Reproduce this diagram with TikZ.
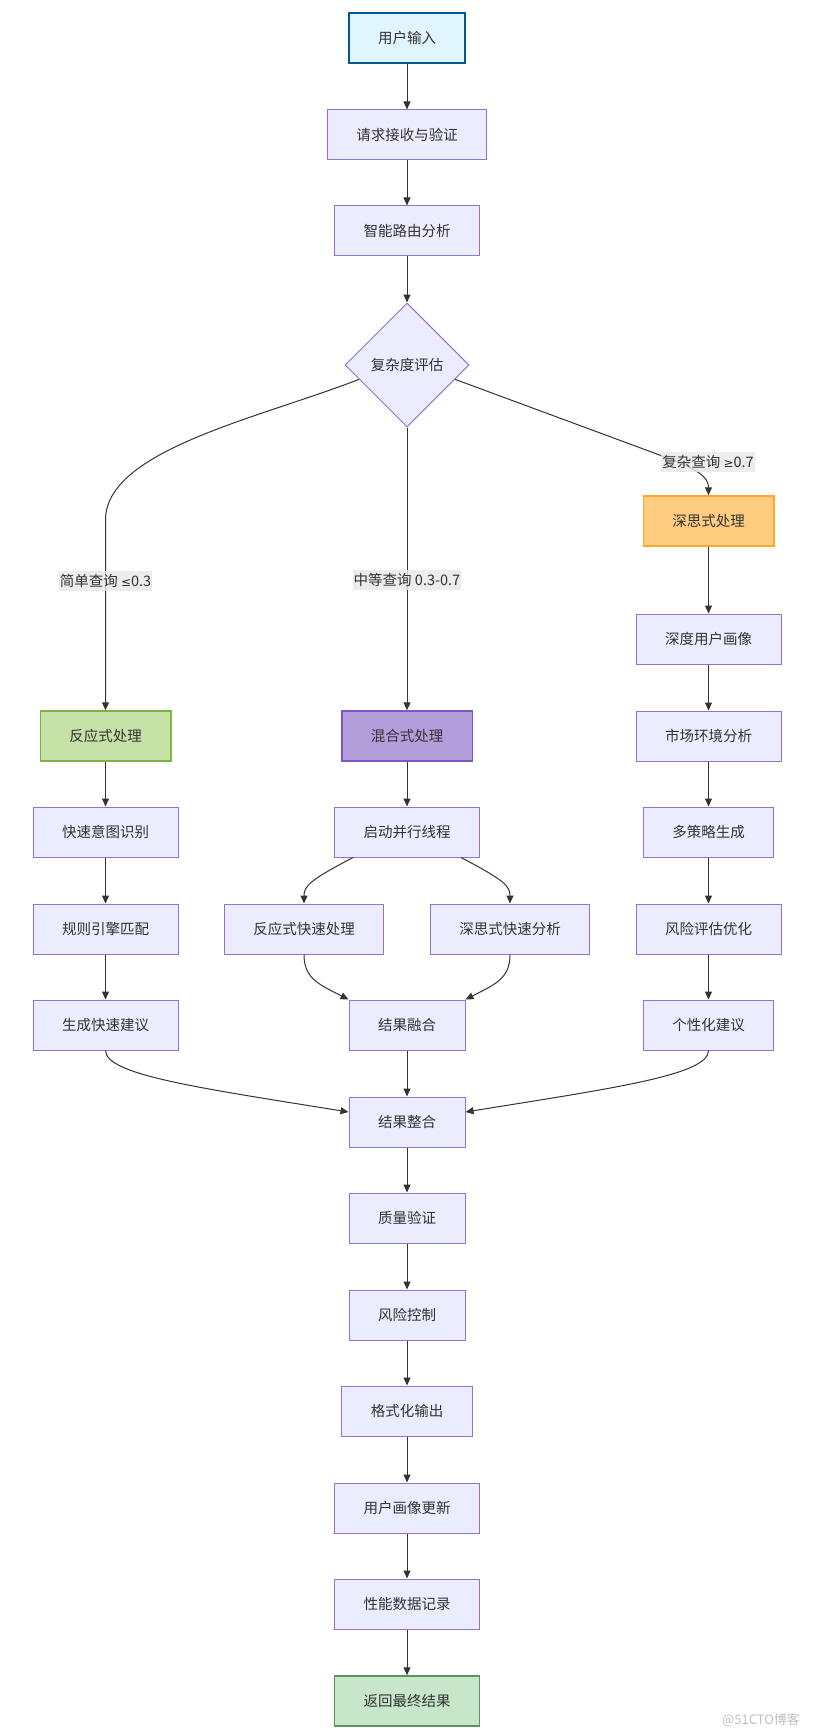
\documentclass[tikz,border=0pt]{standalone}
\usepackage{fontspec}
\newfontfamily\cjk{Noto Sans CJK SC}
\newfontfamily\symfnt{DejaVu Sans}
\usetikzlibrary{shapes.geometric,arrows.meta,calc}

\definecolor{boxfill}{HTML}{ECECFF}
\definecolor{boxline}{HTML}{9370DB}
\definecolor{edgecol}{HTML}{333333}
\definecolor{labelbg}{HTML}{E8E8E8}
\definecolor{startfill}{HTML}{E1F5FE}
\definecolor{startline}{HTML}{01579B}
\definecolor{reactfill}{HTML}{C5E1A5}
\definecolor{reactline}{HTML}{7CB342}
\definecolor{hybridfill}{HTML}{B39DDB}
\definecolor{hybridline}{HTML}{7E57C2}
\definecolor{deepfill}{HTML}{FFCC80}
\definecolor{deepline}{HTML}{FFA726}
\definecolor{endfill}{HTML}{C8E6C9}
\definecolor{endline}{HTML}{5B9460}
\newcommand\boxfont{\cjk\fontsize{14.5pt}{17pt}\selectfont}

\begin{document}
\begin{tikzpicture}[x=1pt, y=-1pt,
    proc/.style={rectangle, draw=boxline, fill=boxfill, line width=1pt, minimum height=50pt, inner xsep=29pt, inner ysep=0pt, text=edgecol, font=\boxfont},
    decision/.style={diamond, aspect=1, draw=boxline, fill=boxfill, line width=1pt, minimum width=124pt, minimum height=124pt, inner sep=0pt, text=edgecol, font=\boxfont},
    startbox/.style={draw=startline, fill=startfill, line width=1.5pt},
    reactbox/.style={draw=reactline, fill=reactfill, line width=1.5pt},
    hybridbox/.style={draw=hybridline, fill=hybridfill, line width=1.5pt},
    deepbox/.style={draw=deepline, fill=deepfill, line width=1.5pt},
    endbox/.style={draw=endline, fill=endfill, line width=1.5pt},
    elabel/.style={fill=labelbg, fill opacity=0.8, text opacity=1, inner xsep=1pt, inner ysep=3pt, text=edgecol, font=\boxfont},
    arrow/.style={-{Triangle[length=8pt, width=7pt]}, draw=edgecol, line width=1pt}
]
\useasboundingbox[fill=white] (0,0) rectangle (816,1736);

% Input chain
\node[proc, startbox] (input) at (407,38) {用户输入};
\node[proc] (recv) at (407,135) {请求接收与验证};
\node[proc] (route) at (407,231) {智能路由分析};
\node[decision] (cplx) at (407,365) {复杂度评估};

% Reactive path
\node[proc, reactbox] (react) at (105.5,736) {反应式处理};
\node[proc] (intent) at (105.5,832) {快速意图识别};
\node[proc] (rules) at (105.5,929) {规则引擎匹配};
\node[proc] (quick) at (105.5,1025) {生成快速建议};

% Hybrid path
\node[proc, hybridbox] (hybrid) at (407,736) {混合式处理};
\node[proc] (thread) at (407,832) {启动并行线程};
\node[proc] (fastreact) at (304,929) {反应式快速处理};
\node[proc] (fastdeep) at (510,929) {深思式快速分析};
\node[proc] (fuse) at (407,1025) {结果融合};

% Deliberative path
\node[proc, deepbox] (deep) at (708.5,521) {深思式处理};
\node[proc] (profile) at (708.5,639) {深度用户画像};
\node[proc] (market) at (708.5,736) {市场环境分析};
\node[proc] (strat) at (708.5,832) {多策略生成};
\node[proc] (risk) at (708.5,929) {风险评估优化};
\node[proc] (advice) at (708.5,1025) {个性化建议};

% Output chain
\node[proc] (merge) at (407,1122) {结果整合};
\node[proc] (check) at (407,1218) {质量验证};
\node[proc] (ctrl) at (407,1315) {风险控制};
\node[proc] (fmt) at (407,1411) {格式化输出};
\node[proc] (upd) at (407,1508) {用户画像更新};
\node[proc] (log) at (407,1604) {性能数据记录};
\node[proc, endbox] (ret) at (407,1701) {返回最终结果};

% Straight arrows
\foreach \a/\b in {input/recv, recv/route, route/cplx, react/intent, intent/rules, rules/quick,
    hybrid/thread, fuse/merge, deep/profile, profile/market, market/strat, strat/risk, risk/advice,
    merge/check, check/ctrl, ctrl/fmt, fmt/upd, upd/log, log/ret}
  \draw[arrow] (\a) -- (\b);

% Branches
\draw[arrow] ($(cplx.west)!0.23!(cplx.south)$) .. controls (260,418) and (105.5,450) .. (105.5,520)
  -- node[elabel, pos=0.32] {简单查询 {\symfnt\fontsize{12pt}{14pt}\selectfont ≤}0.3} (react);
\draw[arrow] (cplx) -- node[elabel, pos=0.54] {中等查询 0.3-0.7} (hybrid);
\draw[arrow] ($(cplx.east)!0.23!(cplx.south)$) -- (665,457) .. controls (700,470) and (708.5,478) .. (deep);
\node[elabel] (hardlbl) at (708,462) {复杂查询 {\symfnt\fontsize{12pt}{14pt}\selectfont ≥}0.7};

% Fork and join
\draw[arrow] ($(thread.south)+(-54,0)$) .. controls (310,880) and (304,886) .. (fastreact);
\draw[arrow] ($(thread.south)+(54,0)$) .. controls (504,880) and (510,886) .. (fastdeep);
\draw[arrow] (fastreact) .. controls (304,978) and (318,984) .. (fuse.north west);
\draw[arrow] (fastdeep) .. controls (510,978) and (496,984) .. (fuse.north east);
\draw[arrow] (quick) .. controls (105.5,1075) and (200,1088) .. ($(merge.west)+(0,-10)$);
\draw[arrow] (advice) .. controls (708.5,1075) and (614,1088) .. ($(merge.east)+(0,-10)$);

% Watermark
\node[text=gray!50, font=\cjk\fontsize{13pt}{15pt}\selectfont] (wm) at (761,1720) {@51CTO博客};

\end{tikzpicture}
\end{document}
